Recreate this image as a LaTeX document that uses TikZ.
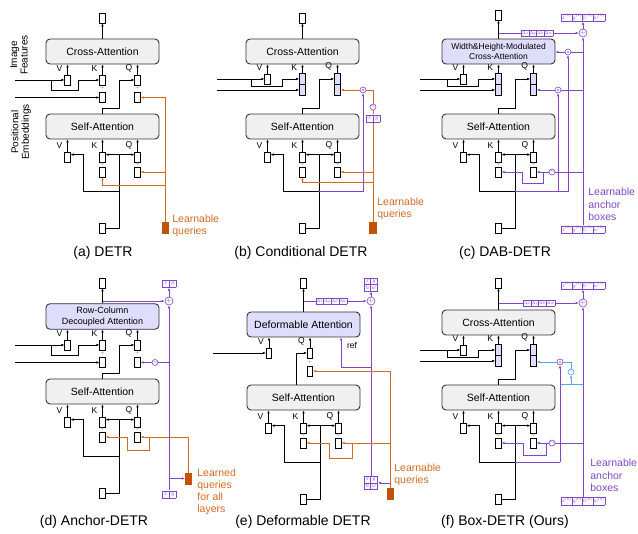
\documentclass[tikz,border=0pt]{standalone}
\usepackage{fontspec}
\setmainfont{Liberation Sans}
\usepackage{graphicx}
\usetikzlibrary{arrows.meta,positioning,calc}

\definecolor{orng}{RGB}{212,106,32}
\definecolor{orngbox}{RGB}{192,82,10}
\definecolor{purp}{RGB}{128,72,196}
\definecolor{attnpurp}{RGB}{222,222,252}
\definecolor{boxgray}{RGB}{240,240,240}
\definecolor{skyblue}{RGB}{88,164,224}

\tikzset{
  attn/.style={draw=black!80, line width=0.9pt, rounded corners=4pt, minimum width=113pt, minimum height=25pt, fill=boxgray, align=center, font=\fontsize{10.5}{11.5}\selectfont},
  sbox/.style={draw, line width=0.7pt, fill=white, minimum width=5.5pt, minimum height=10pt, inner sep=0pt},
  hbox/.style={sbox, fill=attnpurp, minimum width=6pt, minimum height=11pt},
  qbox/.style={draw=orngbox, fill=orngbox, minimum width=6.5pt, minimum height=11pt, inner sep=0pt},
  lbl/.style={font=\fontsize{8.5}{8.5}\selectfont, inner sep=0.3pt},
  pls/.style={text=black!35, font=\fontsize{7}{7}\selectfont, inner sep=0pt},
  arr/.style={-{Latex[length=3pt,width=2.6pt]}},
  arrs/.style={{Latex[length=3pt,width=2.6pt]}-{Latex[length=3pt,width=2.6pt]}},
  oline/.style={draw=orng, line width=0.8pt},
  oarr/.style={oline, arr},
  pline/.style={draw=purp, line width=0.8pt},
  parr/.style={pline, arr},
  bline/.style={draw=skyblue, line width=0.8pt},
  barr/.style={bline, arr},
  odot/.style={circle, draw=purp, fill=white, line width=0.6pt, minimum size=6pt, inner sep=0pt},
  oplus/.style={circle, draw=purp, fill=white, line width=0.6pt, minimum size=7.5pt, inner sep=0pt, text=purp, font=\fontsize{7}{7}\selectfont},
  sine/.style={circle, draw=purp, fill=white, line width=0.6pt, minimum size=6pt, inner sep=0pt, text=purp, font=\fontsize{5}{5}\selectfont},
  cell/.style={text=purp, fill=white, inner sep=0pt},
  otext/.style={text=orng, align=left, anchor=west, font=\fontsize{10.5}{12}\selectfont, inner sep=0pt},
  ptext/.style={text=purp, align=left, anchor=west, font=\fontsize{10.5}{12.5}\selectfont, inner sep=0pt},
  sidetxt/.style={rotate=90, align=center, font=\fontsize{10}{10.5}\selectfont},
  captxt/.style={font=\fontsize{14}{16}\selectfont}
}

% small purple tables
\newcommand{\boxrow}[1]{\scalebox{0.58}{\setlength\tabcolsep{1pt}\begin{tabular}{|c|c|c|c|}\hline$x^{(#1)}$&$y^{(#1)}$&$h^{(#1)}$&$w^{(#1)}$\\\hline\end{tabular}}}
\newcommand{\deltarow}{\scalebox{0.45}{\setlength\tabcolsep{1.5pt}\begin{tabular}{|c|c|c|c|}\hline$\Delta x$&$\Delta y$&$\Delta h$&$\Delta w$\\\hline\end{tabular}}}
\newcommand{\xyrow}{\scalebox{0.62}{\setlength\tabcolsep{3pt}\begin{tabular}{|c|c|}\hline$x$&$y$\\\hline\end{tabular}}}
\newcommand{\xyhw}{\scalebox{0.62}{\setlength\tabcolsep{2pt}\renewcommand\arraystretch{0.85}\begin{tabular}{|c|c|}\hline$x$&$y$\\\hline$h$&$w$\\\hline\end{tabular}}}

% self-attention block with its inputs
\newcommand{\selfpart}{%
  \node[attn] (self) at (102.5,126.5) {Self-Attention};
  \node[sbox] (sv) at (67.5,157) {};
  \node[sbox] (sku) at (102.5,157) {};
  \node[sbox] (skl) at (102.5,172) {};
  \node[sbox] (squ) at (137.5,157) {};
  \node[sbox] (sql) at (137.5,172) {};
  \node[pls] (skp) at (102.5,164.5) {+};
  \node[pls] (sqp) at (137.5,164.5) {+};
  \node[lbl, anchor=south east] (svl) at ([xshift=-1.5pt,yshift=2pt]sv.north west) {V};
  \node[lbl, anchor=south east] (skll) at ([xshift=-1.5pt,yshift=2pt]sku.north west) {K};
  \node[lbl, anchor=south east] (sqll) at ([xshift=-1.5pt,yshift=2pt]squ.north west) {Q};
  \foreach \bx in {sv,sku,squ}
    \draw[arr] (\bx.north) -- (\bx.north |- self.south);
  \node[sbox] (inp) at (102.5,228) {};
  \coordinate (sj) at (119,155);
  \coordinate (sb) at (119,191);
  \draw (inp.east) -| (sj);
  \draw[arrs] ([yshift=-3pt]sku.north east) -- ([yshift=-3pt]squ.north west);
  \draw[arr] (sb) -| ([xshift=13pt,yshift=-3pt]sv.north east) -- ([yshift=-3pt]sv.north east);
}

% cross-attention with split K/Q
\newcommand{\crossplain}[2]{%
  \node[attn, #1] (cross) at (102.5,51.5) {#2};
  \node[sbox] (out) at (102.5,18) {};
  \draw[arr] (cross.north) -- (out.south);
  \node[sbox] (cv) at (67.5,80) {};
  \node[sbox] (cku) at (102.5,80) {};
  \node[sbox] (ckl) at (102.5,97.5) {};
  \node[sbox] (cqu) at (137.5,80) {};
  \node[sbox] (cql) at (137.5,97.5) {};
  \node[pls] (ckp) at (102.5,88.75) {+};
  \node[pls] (cqp) at (137.5,88.75) {+};
  \node[lbl, anchor=south east] (cvl) at ([xshift=-1.5pt,yshift=2pt]cv.north west) {V};
  \node[lbl, anchor=south east] (ckll) at ([xshift=-1.5pt,yshift=2pt]cku.north west) {K};
  \node[lbl, anchor=south east] (cqll) at ([xshift=-1.5pt,yshift=2pt]cqu.north west) {Q};
  \foreach \bx in {cv,cku,cqu}
    \draw[arr] (\bx.north) -- (\bx.north |- cross.south);
  \draw[arr] (15,80) -- (cv.west);
  \draw[arr] (51,80) |- (78,90) |- (cku.west);
  \draw[arr] (15,97.5) -- (ckl.west);
  \draw[arr] (self.north) |- (119,108) |- (cqu.west);
}

% cross-attention with stacked K/Q
\newcommand{\crossstacked}[4]{%
  \node[attn, #1] (cross) at (102.5,51.5) {#2};
  \node[sbox] (out) at (102.5,#4) {};
  \draw[arr] (cross.north) -- (out.south);
  \node[sbox] (cv) at (67.5,79) {};
  \node[hbox] (cku) at (102.5,79) {};
  \node[hbox] (ckl) at (102.5,90) {};
  \node[hbox] (cqu) at (137.5,79) {};
  \node[hbox] (cql) at (137.5,90) {};
  \node[lbl, anchor=south east] (cvl) at ([xshift=-1.5pt,yshift=2pt]cv.north west) {V};
  \node[lbl, anchor=south east] (ckll) at ([xshift=-1.5pt,yshift=2pt]cku.north west) {K};
  \node[lbl, anchor=south east] (cqll) at ([xshift=-1.5pt,yshift=2pt]cqu.north west) {Q};
  \foreach \bx in {cv,cku,cqu}
    \draw[arr] (\bx.north) -- (\bx.north |- cross.south);
  \draw[arr] (#3,79) -- (cv.west);
  \draw[arr] (51,79) |- (82,86) |- (cku.west);
  \draw[arr] (#3,90) -- (ckl.west);
  \draw[arr] (self.north) |- (119,108) |- (cqu.west);
}

\begin{document}
\begin{tikzpicture}[x=1pt, y=-1pt, line width=0.7pt]
    \useasboundingbox (0,0) rectangle (638,534);

    % (a) DETR
    \begin{scope}[name prefix=a-]
      \selfpart
      \crossplain{fill=boxgray}{Cross-Attention}
      \node[qbox] (qry) at (165.5,228) {};
      \draw[oarr] (qry.north) |- (cql.east);
      \draw[oarr] (qry.north |- sql.east) -- (sql.east);
      \draw[oarr] (qry.north |- 0,185) -| (skl.south);
      \node[otext] (lq) at (172,226) {Learnable\\queries};
    \end{scope}
    \node[sidetxt] (imgf) at (19,55) {Image\\Features};
    \node[sidetxt] (posf) at (21,132) {Positional\\Embeddings};

    % (b) Conditional DETR
    \begin{scope}[shift={(200,0)}, name prefix=b-]
      \selfpart
      \crossstacked{fill=boxgray}{Cross-Attention}{17}{18}
      \node[qbox] (qry) at (173,227.5) {};
      \node[odot] (dot) at (163,90) {};
      \fill[purp] (dot) circle (0.9pt);
      \node[sine] (sin) at (173,107) {$\sim$};
      \node[cell] (xy) at (173,118.5) {\xyrow};
      \draw[oline] (qry.north) -- (xy.south);
      \draw[oline] (xy.north) -- (sin.south);
      \draw[oline] (sin.north) |- (dot.east);
      \draw[oarr] (dot.west) -- (cql.east);
      \draw[parr] (sb) -| (dot.south);
      \draw[oarr] (qry.north |- sql.east) -- (sql.east);
      \draw[oarr] (qry.north |- 0,182) -| (skl.south);
      \node[otext] (lq) at (177,209) {Learnable\\queries};
    \end{scope}

    % (c) DAB-DETR
    \begin{scope}[shift={(396,0)}, name prefix=c-]
      \selfpart
      \crossstacked{fill=attnpurp, font=\fontsize{8.5}{10}\selectfont}{Width\&Height-Modulated\\Cross-Attention}{24}{15}
      \node[oplus] (add) at (187,33) {$+$};
      \node[cell] (b1) at (187,17.5) {\boxrow{1}};
      \node[cell] (b0) at (187,229.5) {\boxrow{0}};
      \node[odot] (dk) at (172,52) {};
      \node[odot] (dq) at (162,90) {};
      \fill[purp] (dk) circle (0.9pt) (dq) circle (0.9pt);
      \node[sine] (sin) at (156,172) {$\sim$};
      \draw[parr] (b0.north) -- (add.south);
      \draw[parr] (add.north) -- (b1.south);
      \draw[parr] (cross.north |- add.west) -- (add.west);
      \node[cell] (dl) at (141,33) {\deltarow};
      \draw[pline] (add.south |- dk.east) -- (dk.east);
      \draw[parr] (dk.west) -- (dk.west -| cross.east);
      \draw[pline] (add.south |- dq.east) -- (dq.east);
      \draw[parr] (dq.west) -- (cql.east);
      \draw[pline] (add.south |- sin.east) -- (sin.east);
      \draw[parr] (sin.west) -- (sql.east);
      \draw[parr] (sb) -| (dk.south);
      \draw[parr] (dq.south |- sb) -- (dq.south);
      \draw[parr] (147,172) |- (126,183) |- (skl.east);
      \node[ptext] (anc) at (192,204.5) {Learnable\\anchor\\boxes};
    \end{scope}

    % (d) Anchor-DETR
    \begin{scope}[shift={(0,265)}, name prefix=d-]
      \selfpart
      \crossplain{fill=attnpurp, font=\fontsize{9}{10.5}\selectfont}{Row-Column\\Decoupled Attention}
      \node[oplus] (add) at (169,36) {$+$};
      \node[cell] (xy1) at (169,18.5) {\xyrow};
      \node[cell] (xy0) at (169,229.5) {\xyrow};
      \node[sine] (sin) at (155,97.5) {$\sim$};
      \node[qbox] (qry) at (188.5,213.5) {};
      \draw[parr] (xy0.north) -- (add.south);
      \draw[parr] (add.north) -- (xy1.south);
      \draw[parr] (cross.north |- add.west) -- (add.west);
      \draw[pline] (add.south |- sin.east) -- (sin.east);
      \draw[parr] (sin.west) -- (cql.east);
      \draw[parr] (add.south |- qry.west) -- (qry.west);
      \draw[oarr] (qry.north) |- (sql.east);
      \draw[oarr] (149,172) |- (127,185) |- (skl.east);
      \node[otext] (lq) at (197,227) {Learned\\queries\\for all\\layers};
    \end{scope}

    % (e) Deformable DETR
    \begin{scope}[shift={(201,271)}, name prefix=e-]
      \selfpart
      \node[attn, fill=attnpurp] (cross) at (102.5,53.5) {Deformable Attention};
      \node[sbox] (out) at (102.5,12) {};
      \draw[arr] (cross.north) -- (out.south);
      \node[sbox] (cv) at (68,82) {};
      \node[sbox] (cqu) at (109,82) {};
      \node[sbox] (cql) at (109,100) {};
      \node[pls] (cqp) at (109,91) {+};
      \node[lbl, anchor=south east] (cvl) at ([xshift=-1.5pt,yshift=2pt]cv.north west) {V};
      \node[lbl, anchor=south east] (cqll) at ([xshift=-1.5pt,yshift=2pt]cqu.north west) {Q};
      \foreach \bx in {cv,cqu}
        \draw[arr] (\bx.north) -- (\bx.north |- cross.south);
      \draw[arr] (12,82) -- (cv.west);
      \draw[arr] ([xshift=-7.5pt]self.north) |- (cqu.west);
      \node[oplus] (add) at (170,30) {$+$};
      \node[cell] (xy1) at (170,13.5) {\xyhw};
      \node[cell] (xy0) at (170,212) {\xyhw};
      \node[qbox] (qry) at (189.5,223) {};
      \draw[parr] (xy0.north) -- (add.south);
      \draw[parr] (add.north) -- (xy1.south);
      \draw[parr] (cross.north |- add.west) -- (add.west);
      \node[cell] (dl) at (130.5,30) {\deltarow};
      \draw[parr] (add.south |- 0,96) -| ([xshift=37.5pt]cross.south);
      \node[lbl] (ref) at (151,74) {ref};
      \draw[parr] (qry.north |- xy0.east) -- (xy0.east);
      \draw[oarr] (qry.north) |- (cql.east);
      \draw[oarr] (qry.north |- sql.east) -- (sql.east);
      \draw[oarr] (151,172) |- (128,187) |- (skl.east);
      \node[otext] (lq) at (193,204) {Learnable\\queries};
    \end{scope}

    % (f) Box-DETR
    \begin{scope}[shift={(396,271)}, name prefix=f-]
      \selfpart
      \crossstacked{fill=boxgray}{Cross-Attention}{24}{12}
      \node[oplus] (add) at (187,32) {$+$};
      \node[cell] (b1) at (187,14.5) {\boxrow{1}};
      \node[cell] (b0) at (187,230) {\boxrow{0}};
      \node[odot] (dq) at (164,91) {};
      \fill[purp] (dq) circle (0.9pt);
      \node[sine, draw=skyblue, text=skyblue] (bsin) at (175,101) {$\sim$};
      \node[sine] (sin) at (156,172) {$\sim$};
      \draw[parr] (b0.north) -- (add.south);
      \draw[parr] (add.north) -- (b1.south);
      \draw[parr] (cross.north |- add.west) -- (add.west);
      \node[cell] (dl) at (143,32) {\deltarow};
      \draw[barr] (dq.west) -- (dq.west -| cql.east);
      \draw[bline] (bsin.north) |- (dq.east);
      \draw[bline] (dq.south |- 0,113) -- (add.south |- 0,113);
      \draw[barr] (bsin.south |- 0,113) -- (bsin.south);
      \draw[pline] (sb) -- (dq.south |- sb);
      \draw[parr] (dq.south |- sb) -- (dq.south);
      \draw[pline] (add.south |- sin.east) -- (sin.east);
      \draw[parr] (sin.west) -- (sql.east);
      \draw[parr] (150,172) |- (127,184) |- (skl.east);
      \node[ptext] (anc) at (194,204.5) {Learnable\\anchor\\boxes};
    \end{scope}

    % captions
    \node[captxt] (capa) at (103,253) {(a) DETR};
    \node[captxt] (capb) at (301,253) {(b) Conditional DETR};
    \node[captxt] (capc) at (505,253) {(c) DAB-DETR};
    \node[captxt] (capd) at (94,522) {(d) Anchor-DETR};
    \node[captxt] (cape) at (303,522) {(e) Deformable DETR};
    \node[captxt] (capf) at (505,522) {(f) Box-DETR (Ours)};
\end{tikzpicture}
\end{document}
